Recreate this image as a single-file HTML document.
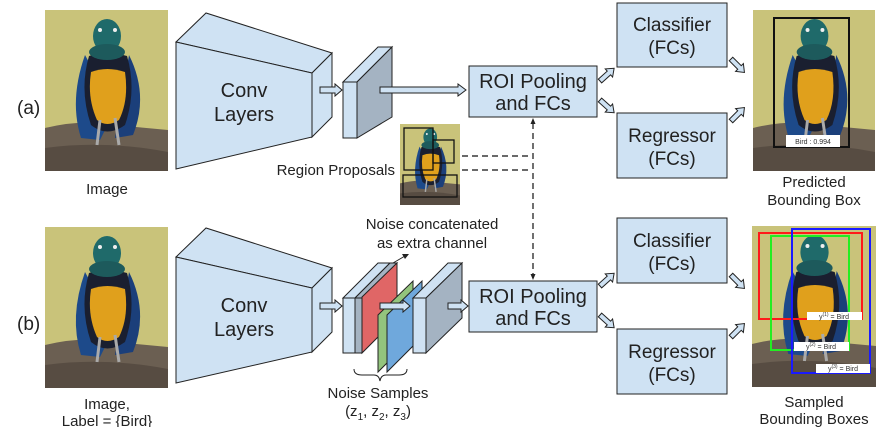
<!DOCTYPE html>
<html><head><meta charset="utf-8"><style>
html,body{margin:0;padding:0;background:#fff;}
svg{display:block;font-family:"Liberation Sans",Arial,sans-serif;}
</style></head><body>
<svg width="881" height="427" viewBox="0 0 881 427" xmlns="http://www.w3.org/2000/svg">
<defs>
<symbol id="bird" viewBox="0 0 123 161" preserveAspectRatio="none">
<rect width="123" height="161" fill="#c9c37a"/>
<path d="M0 118 Q40 108 80 116 L123 120 L123 161 L0 161Z" fill="#6b5f52"/>
<path d="M0 138 Q60 130 123 142 L123 161 L0 161Z" fill="#574c42"/>
<path d="M40 45 Q24 90 36 128 L55 130 L70 100 Z" fill="#1d4a8a"/>
<path d="M84 45 Q104 85 88 125 L70 128 Z" fill="#1b3f7a"/>
<path d="M44 46 Q62 40 82 46 Q92 80 80 115 Q62 128 46 115 Q34 80 44 46Z" fill="#1a1f30"/>
<path d="M46 62 Q62 56 80 62 Q84 90 74 110 Q62 118 52 110 Q42 88 46 62Z" fill="#e0a01c"/>
<ellipse cx="62" cy="26" rx="14" ry="17" fill="#1f6a6a"/>
<ellipse cx="62" cy="42" rx="18" ry="8" fill="#1d5a5c"/>
<circle cx="55" cy="20" r="2" fill="#eee"/><circle cx="70" cy="20" r="2" fill="#eee"/>
<path d="M55 110 L52 135 M70 108 L74 135" stroke="#aaa" stroke-width="3"/>
</symbol>
</defs>

<text x="17" y="114" font-size="19" fill="#222">(a)</text>
<use href="#bird" x="45" y="10" width="123" height="161"/>
<text x="107" y="194" font-size="15" text-anchor="middle" fill="#222">Image</text>

<g stroke="#222" stroke-width="1" fill="#cfe2f3">
<polygon points="176,42 206,13 332,53 312,73"/>
<polygon points="312,73 332,53 332,117 312,137"/>
<polygon points="176,42 312,73 312,137 176,169"/>
</g>
<text x="244" y="97" font-size="20" text-anchor="middle" fill="#222">Conv</text>
<text x="244" y="121" font-size="20" text-anchor="middle" fill="#222">Layers</text>

<g stroke="#222" stroke-width="1">
<polygon points="343,82 378,47 392,47 357,82" fill="#cfe2f3"/>
<polygon points="357,82 392,47 392,117 357,138" fill="#a4b3c2"/>
<rect x="343" y="82" width="14" height="56" fill="#cfe2f3"/>
</g>

<g fill="#cfe2f3" stroke="#222" stroke-width="1">
<polygon points="320,87 335,87 335,84 342,90 335,96 335,93 320,93"/>
<polygon points="380,87 458,87 458,84 466,90 458,96 458,93 380,93"/>
</g>

<rect x="469" y="66" width="128" height="51" fill="#cfe2f3" stroke="#222"/>
<text x="533" y="88" font-size="20" text-anchor="middle" fill="#222">ROI Pooling</text>
<text x="533" y="110" font-size="20" text-anchor="middle" fill="#222">and FCs</text>

<rect x="617" y="3" width="110" height="64" fill="#cfe2f3" stroke="#222"/>
<text x="672" y="31" font-size="19" text-anchor="middle" fill="#222">Classifier</text>
<text x="672" y="54" font-size="19" text-anchor="middle" fill="#222">(FCs)</text>
<rect x="617" y="113" width="110" height="65" fill="#cfe2f3" stroke="#222"/>
<text x="672" y="142" font-size="19" text-anchor="middle" fill="#222">Regressor</text>
<text x="672" y="165" font-size="19" text-anchor="middle" fill="#222">(FCs)</text>

<g fill="#cfe2f3" stroke="#222" stroke-width="1">
<polygon points="0,-2.5 12,-2.5 12,-5.5 19,0 12,5.5 12,2.5 0,2.5" transform="translate(600,81) rotate(-42)"/>
<polygon points="0,-2.5 12,-2.5 12,-5.5 19,0 12,5.5 12,2.5 0,2.5" transform="translate(600,100) rotate(42)"/>
<polygon points="0,-2.5 12,-2.5 12,-5.5 19,0 12,5.5 12,2.5 0,2.5" transform="translate(731,59) rotate(45)"/>
<polygon points="0,-2.5 12,-2.5 12,-5.5 19,0 12,5.5 12,2.5 0,2.5" transform="translate(731,121) rotate(-45)"/>
<polygon points="0,-2.5 12,-2.5 12,-5.5 19,0 12,5.5 12,2.5 0,2.5" transform="translate(600,286) rotate(-42)"/>
<polygon points="0,-2.5 12,-2.5 12,-5.5 19,0 12,5.5 12,2.5 0,2.5" transform="translate(600,315) rotate(42)"/>
<polygon points="0,-2.5 12,-2.5 12,-5.5 19,0 12,5.5 12,2.5 0,2.5" transform="translate(731,275) rotate(45)"/>
<polygon points="0,-2.5 12,-2.5 12,-5.5 19,0 12,5.5 12,2.5 0,2.5" transform="translate(731,337) rotate(-45)"/>
</g>

<use href="#bird" x="753" y="10" width="122" height="161"/>
<rect x="774" y="18" width="75" height="129" fill="none" stroke="#111" stroke-width="2"/>
<rect x="786" y="135" width="54" height="12" fill="#fff"/>
<text x="813" y="144" font-size="7" text-anchor="middle" fill="#333">Bird : 0.994</text>
<text x="814" y="187" font-size="15" text-anchor="middle" fill="#222">Predicted</text>
<text x="814" y="205" font-size="15" text-anchor="middle" fill="#222">Bounding Box</text>

<text x="395" y="175" font-size="15" text-anchor="end" fill="#222">Region Proposals</text>
<use href="#bird" x="400" y="124" width="60" height="81"/>
<g fill="none" stroke="#111" stroke-width="1.3">
<rect x="404" y="128" width="29" height="42"/>
<rect x="433" y="140" width="21" height="23"/>
<rect x="403" y="175" width="54" height="22"/>
</g>
<g stroke="#111" stroke-width="1.2" stroke-dasharray="6,4" fill="none">
<line x1="462" y1="156" x2="532" y2="156"/>
<line x1="462" y1="170" x2="532" y2="170"/>
<line x1="533" y1="123" x2="533" y2="274"/>
</g>
<polygon points="533,118 530.5,124 535.5,124" fill="#222"/>
<polygon points="533,280 530.5,274 535.5,274" fill="#222"/>

<text x="17" y="330" font-size="19" fill="#222">(b)</text>
<use href="#bird" x="45" y="227" width="123" height="161"/>
<text x="107" y="409" font-size="15" text-anchor="middle" fill="#222">Image,</text>
<text x="107" y="426" font-size="15" text-anchor="middle" fill="#222">Label = {Bird}</text>

<g stroke="#222" stroke-width="1" fill="#cfe2f3">
<polygon points="176,257 206,228 332,268 312,288"/>
<polygon points="312,288 332,268 332,332 312,352"/>
<polygon points="176,257 312,288 312,352 176,383"/>
</g>
<text x="244" y="312" font-size="20" text-anchor="middle" fill="#222">Conv</text>
<text x="244" y="336" font-size="20" text-anchor="middle" fill="#222">Layers</text>

<g stroke="#222" stroke-width="1">
<polygon points="343,298 378,263 390,263 355,298" fill="#cfe2f3"/>
<polygon points="355,298 390,263 397,263 362,298" fill="#a4b3c2"/>
<rect x="355" y="298" width="7" height="55" fill="#a4b3c2"/>
<rect x="343" y="298" width="12" height="55" fill="#cfe2f3"/>
<polygon points="362,297 397,263 397,318 362,353" fill="#e06666"/>
<polygon points="378,315 413,281 413,337 378,372" fill="#93c47d"/>
<polygon points="387,315 422,281 422,337 387,372" fill="#6fa8dc"/>
<polygon points="413,298 448,263 462,263 426,298" fill="#cfe2f3"/>
<polygon points="426,298 462,263 462,318 426,353" fill="#a4b3c2"/>
<rect x="413" y="298" width="13" height="55" fill="#cfe2f3"/>
</g>
<g fill="#cfe2f3" stroke="#222" stroke-width="1">
<polygon points="320,303 335,303 335,300 342,306 335,312 335,309 320,309"/>
<polygon points="380,303 403,303 403,300 410,306 403,312 403,309 380,309"/>
<polygon points="448,303 461,303 461,300 468,306 461,312 461,309 448,309"/>
</g>
<line x1="393" y1="263" x2="405" y2="256" stroke="#222" stroke-width="1"/>
<polygon points="409,254 402,254 405,259" fill="#222"/>
<text x="432" y="229" font-size="15" text-anchor="middle" fill="#222">Noise concatenated</text>
<text x="432" y="248" font-size="15" text-anchor="middle" fill="#222">as extra channel</text>
<path d="M354,369 Q354,375 362,375 L374,375 Q379,375 380,381 Q381,375 386,375 L399,375 Q407,375 407,369" fill="none" stroke="#222" stroke-width="1"/>
<text x="378" y="398" font-size="15" text-anchor="middle" fill="#222">Noise Samples</text>
<text x="378" y="416" font-size="15" text-anchor="middle" fill="#222">(z<tspan font-size="10" dy="4">1</tspan><tspan dy="-4">, z</tspan><tspan font-size="10" dy="4">2</tspan><tspan dy="-4">, z</tspan><tspan font-size="10" dy="4">3</tspan><tspan dy="-4">)</tspan></text>

<rect x="469" y="281" width="128" height="51" fill="#cfe2f3" stroke="#222"/>
<text x="533" y="303" font-size="20" text-anchor="middle" fill="#222">ROI Pooling</text>
<text x="533" y="325" font-size="20" text-anchor="middle" fill="#222">and FCs</text>

<rect x="617" y="218" width="110" height="65" fill="#cfe2f3" stroke="#222"/>
<text x="672" y="247" font-size="19" text-anchor="middle" fill="#222">Classifier</text>
<text x="672" y="270" font-size="19" text-anchor="middle" fill="#222">(FCs)</text>
<rect x="617" y="329" width="110" height="65" fill="#cfe2f3" stroke="#222"/>
<text x="672" y="358" font-size="19" text-anchor="middle" fill="#222">Regressor</text>
<text x="672" y="381" font-size="19" text-anchor="middle" fill="#222">(FCs)</text>

<use href="#bird" x="752" y="226" width="124" height="161"/>
<g fill="none" stroke-width="2">
<rect x="759" y="233" width="103" height="86" stroke="#ff1a1a"/>
<rect x="771" y="236" width="78" height="114" stroke="#22ee22"/>
<rect x="792" y="229" width="78" height="144" stroke="#1a1aff"/>
</g>
<rect x="807" y="312" width="55" height="8" fill="#fff"/>
<text x="834" y="319" font-size="7" text-anchor="middle" fill="#333">y<tspan font-size="5" dy="-3">(1)</tspan><tspan dy="3"> = Bird</tspan></text>
<rect x="794" y="342" width="55" height="9" fill="#fff"/>
<text x="821" y="349" font-size="7" text-anchor="middle" fill="#333">y<tspan font-size="5" dy="-3">(2)</tspan><tspan dy="3"> = Bird</tspan></text>
<rect x="816" y="364" width="54" height="9" fill="#fff"/>
<text x="843" y="371" font-size="7" text-anchor="middle" fill="#333">y<tspan font-size="5" dy="-3">(3)</tspan><tspan dy="3"> = Bird</tspan></text>
<text x="814" y="407" font-size="15" text-anchor="middle" fill="#222">Sampled</text>
<text x="814" y="424" font-size="15" text-anchor="middle" fill="#222">Bounding Boxes</text>
</svg>
</body></html>
